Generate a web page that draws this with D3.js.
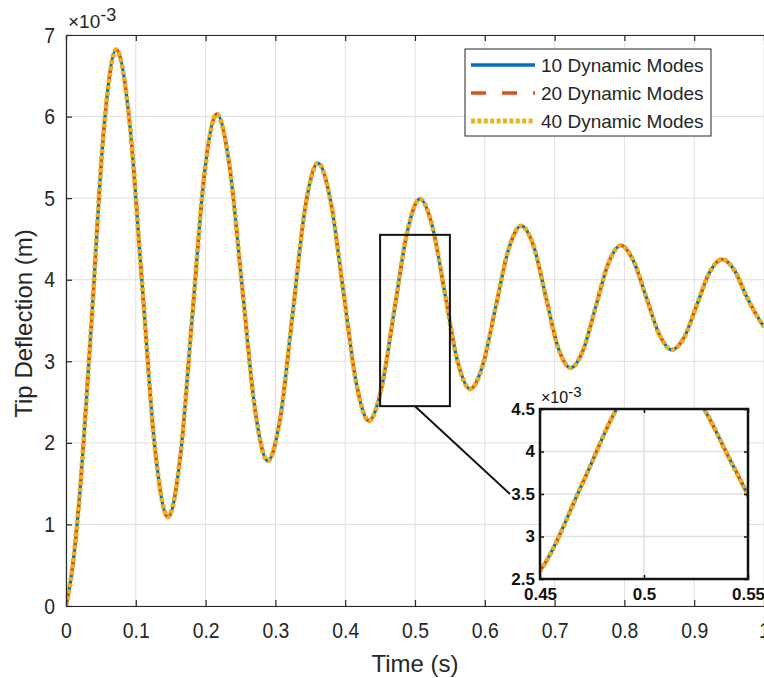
<!DOCTYPE html>
<html>
<head>
<meta charset="utf-8">
<script src="https://cdn.jsdelivr.net/npm/d3@7"></script>
<style>
  html, body { margin: 0; padding: 0; background: #fff; overflow: hidden; }
  svg { display: block; font-family: "Liberation Sans", Arial, Helvetica, sans-serif; }
</style>
</head>
<body>
<svg id="chart" width="764" height="678"></svg>
<script>
// ---- Data (deflection values in units of 1e-3 m) ----
const time = [0, 0.009, 0.018, 0.036, 0.054, 0.072, 0.0905, 0.109, 0.1275, 0.146, 0.1635, 0.181, 0.1985,
  0.216, 0.234, 0.2525, 0.271, 0.289, 0.307, 0.325, 0.343, 0.361, 0.379, 0.3975, 0.416, 0.434,
  0.452, 0.4705, 0.489, 0.507, 0.525, 0.543, 0.561, 0.579, 0.597, 0.6155, 0.634, 0.652, 0.670,
  0.6875, 0.705, 0.723, 0.741, 0.759, 0.777, 0.795, 0.813, 0.8315, 0.850, 0.868, 0.886, 0.904,
  0.922, 0.940, 0.958, 0.976, 0.994, 1.0];
const modes10 = [0, 0.45, 1.2, 3.41, 5.82, 6.82, 5.98, 3.955, 1.93, 1.09, 1.81, 3.56, 5.31,
  6.03, 5.41, 3.905, 2.40, 1.78, 2.31, 3.605, 4.90, 5.43, 4.97, 3.85, 2.73, 2.27,
  2.67, 3.63, 4.59, 4.99, 4.65, 3.825, 3.0, 2.66, 2.95, 3.66, 4.37, 4.66, 4.41,
  3.79, 3.17, 2.92, 3.14, 3.67, 4.20, 4.42, 4.23, 3.78, 3.33, 3.14, 3.30, 3.695,
  4.09, 4.25, 4.11, 3.775, 3.50, 3.42];
const modes20 = [0, 0.45, 1.2, 3.41, 5.82, 6.82, 5.98, 3.955, 1.93, 1.09, 1.81, 3.56, 5.31,
  6.03, 5.41, 3.905, 2.40, 1.78, 2.31, 3.605, 4.90, 5.43, 4.97, 3.85, 2.73, 2.27,
  2.67, 3.63, 4.59, 4.99, 4.65, 3.825, 3.0, 2.66, 2.95, 3.66, 4.37, 4.66, 4.41,
  3.79, 3.17, 2.92, 3.14, 3.67, 4.20, 4.42, 4.23, 3.78, 3.33, 3.14, 3.30, 3.695,
  4.09, 4.25, 4.11, 3.775, 3.50, 3.42];
const modes40 = [0, 0.45, 1.2, 3.41, 5.82, 6.82, 5.98, 3.955, 1.93, 1.09, 1.81, 3.56, 5.31,
  6.03, 5.41, 3.905, 2.40, 1.78, 2.31, 3.605, 4.90, 5.43, 4.97, 3.85, 2.73, 2.27,
  2.67, 3.63, 4.59, 4.99, 4.65, 3.825, 3.0, 2.66, 2.95, 3.66, 4.37, 4.66, 4.41,
  3.79, 3.17, 2.92, 3.14, 3.67, 4.20, 4.42, 4.23, 3.78, 3.33, 3.14, 3.30, 3.695,
  4.09, 4.25, 4.11, 3.775, 3.50, 3.42];
const seriesNames = ["10 Dynamic Modes", "20 Dynamic Modes", "40 Dynamic Modes"];
const xTicks = [0, 0.1, 0.2, 0.3, 0.4, 0.5, 0.6, 0.7, 0.8, 0.9, 1];
const yTicks = [0, 1, 2, 3, 4, 5, 6, 7];
const insetXTicks = [0.45, 0.5, 0.55];
const insetYTicks = [2.5, 3, 3.5, 4, 4.5];
const zoomBoxX = [0.45, 0.55];
const zoomBoxY = [2.45, 4.55];
const xLabel = "Time (s)";
const yLabel = "Tip Deflection (m)";

// ---- Styles ----
const series = [
  { name: seriesNames[0], values: modes10, color: "#0072BD", width: 3.3, dash: null },
  { name: seriesNames[1], values: modes20, color: "#D95319", width: 3.3, dash: "15,16" },
  { name: seriesNames[2], values: modes40, color: "#EDB120", width: 4.8, dash: "4,2.4" }
];
const axisColor = "#262626";
const gridColor = "#e0e0e0";
const SX = 0.88; // horizontal squeeze of tick labels

const svg = d3.select("#chart");
const W = 764, H = 678;
const plot = { left: 66, top: 35, right: 764, bottom: 606 };

const x = d3.scaleLinear().domain([0, 1]).range([plot.left, plot.right]);
const y = d3.scaleLinear().domain([0, 7]).range([plot.bottom, plot.top]);

svg.append("rect").attr("width", W).attr("height", H).attr("fill", "#fff");

// grid
const grid = svg.append("g");
grid.selectAll("line.vx").data(xTicks).join("line")
  .attr("x1", d => x(d)).attr("x2", d => x(d))
  .attr("y1", plot.top).attr("y2", plot.bottom)
  .attr("stroke", gridColor).attr("stroke-width", 1);
grid.selectAll("line.hy").data(yTicks).join("line")
  .attr("y1", d => y(d)).attr("y2", d => y(d))
  .attr("x1", plot.left).attr("x2", plot.right)
  .attr("stroke", gridColor).attr("stroke-width", 1);

// clip
svg.append("clipPath").attr("id", "mainClip").append("rect")
  .attr("x", plot.left).attr("y", plot.top - 6)
  .attr("width", plot.right - plot.left).attr("height", plot.bottom - plot.top + 12);

const line = d3.line()
  .x((d, i) => x(time[i]))
  .y(d => y(d))
  .curve(d3.curveMonotoneX);

const lines = svg.append("g").attr("clip-path", "url(#mainClip)");
series.forEach(s => {
  lines.append("path")
    .attr("d", line(s.values))
    .attr("fill", "none")
    .attr("stroke", s.color)
    .attr("stroke-width", s.width)
    .attr("stroke-dasharray", s.dash)
    .attr("stroke-linejoin", "round");
});

// axes
function styleAxis(g) {
  g.select(".domain").attr("stroke", axisColor).attr("stroke-width", 1.2);
  g.selectAll(".tick line").attr("stroke", axisColor).attr("stroke-width", 1.2);
  g.selectAll(".tick text").attr("fill", axisColor).attr("font-size", 22);
}
svg.append("g").attr("transform", `translate(0,${plot.bottom})`)
  .call(d3.axisBottom(x).tickValues(xTicks).tickSize(-6).tickSizeOuter(0).tickPadding(16.5)
    .tickFormat(d3.format("~g")))
  .call(styleAxis)
  .call(g => g.selectAll(".tick text").attr("transform", `scale(${SX},1)`));
svg.append("g").attr("transform", `translate(0,${plot.top})`)
  .call(d3.axisTop(x).tickValues(xTicks).tickSize(-6).tickSizeOuter(0).tickFormat(""))
  .call(styleAxis);
svg.append("g").attr("transform", `translate(${plot.left},0)`)
  .call(d3.axisLeft(y).tickValues(yTicks).tickSize(-6).tickSizeOuter(0).tickPadding(11)
    .tickFormat(d3.format("~g")))
  .call(styleAxis)
  .call(g => g.selectAll(".tick text").attr("x", -11 / SX).attr("transform", `scale(${SX},1)`));

// exponent
const exp = svg.append("text").attr("x", plot.left + 2).attr("y", 28)
  .attr("fill", axisColor).attr("font-size", 19);
exp.append("tspan").text("\u00d710");
exp.append("tspan").attr("dy", -7).attr("font-size", 18).text("-3");

// axis labels
svg.append("text").attr("x", (plot.left + plot.right) / 2).attr("y", 672)
  .attr("text-anchor", "middle").attr("fill", axisColor).attr("font-size", 24).text(xLabel);
svg.append("text").attr("transform", `translate(32,${(plot.top + plot.bottom) / 2 + 3}) rotate(-90)`)
  .attr("text-anchor", "middle").attr("fill", axisColor).attr("font-size", 24).text(yLabel);

// legend
const legend = { x: 465, y: 49, w: 246, h: 87, row: 28 };
const lg = svg.append("g");
lg.append("rect").attr("x", legend.x).attr("y", legend.y).attr("width", legend.w).attr("height", legend.h)
  .attr("fill", "#fff").attr("stroke", axisColor).attr("stroke-width", 1);
series.forEach((s, i) => {
  const cy = legend.y + 16 + i * legend.row;
  lg.append("line").attr("x1", legend.x + 6).attr("x2", legend.x + 70)
    .attr("y1", cy).attr("y2", cy)
    .attr("stroke", s.color).attr("stroke-width", s.width).attr("stroke-dasharray", s.dash);
  lg.append("text").attr("x", legend.x + 76).attr("y", cy).attr("dy", "0.36em")
    .attr("fill", axisColor).attr("font-size", 19).text(s.name);
});

// zoom box in main plot
svg.append("rect")
  .attr("x", x(zoomBoxX[0])).attr("y", y(zoomBoxY[1]))
  .attr("width", x(zoomBoxX[1]) - x(zoomBoxX[0]))
  .attr("height", y(zoomBoxY[0]) - y(zoomBoxY[1]))
  .attr("fill", "none").attr("stroke", "#111").attr("stroke-width", 2);

// ---- Inset ----
const inset = { left: 540, top: 409, right: 748, bottom: 579 };
const xi = d3.scaleLinear().domain([0.45, 0.55]).range([inset.left, inset.right]);
const yi = d3.scaleLinear().domain([2.5, 4.5]).range([inset.bottom, inset.top]);

// connector
svg.append("line")
  .attr("x1", x(0.5)).attr("y1", y(zoomBoxY[0]))
  .attr("x2", xi(0.45) - 30).attr("y2", yi(3.5))
  .attr("stroke", "#111").attr("stroke-width", 2);

const ig = svg.append("g");
ig.append("rect").attr("x", inset.left).attr("y", inset.top)
  .attr("width", inset.right - inset.left).attr("height", inset.bottom - inset.top)
  .attr("fill", "#fff");
ig.selectAll("line.gx").data(insetXTicks).join("line")
  .attr("x1", d => xi(d)).attr("x2", d => xi(d))
  .attr("y1", inset.top).attr("y2", inset.bottom)
  .attr("stroke", gridColor).attr("stroke-width", 1.5);
ig.selectAll("line.gy").data(insetYTicks).join("line")
  .attr("y1", d => yi(d)).attr("y2", d => yi(d))
  .attr("x1", inset.left).attr("x2", inset.right)
  .attr("stroke", gridColor).attr("stroke-width", 1.5);

svg.append("clipPath").attr("id", "insetClip").append("rect")
  .attr("x", inset.left).attr("y", inset.top)
  .attr("width", inset.right - inset.left).attr("height", inset.bottom - inset.top);
const iline = d3.line()
  .x((d, i) => xi(time[i]))
  .y(d => yi(d))
  .curve(d3.curveMonotoneX);
const ilines = ig.append("g").attr("clip-path", "url(#insetClip)");
series.forEach(s => {
  ilines.append("path")
    .attr("d", iline(s.values))
    .attr("fill", "none")
    .attr("stroke", s.color)
    .attr("stroke-width", s.width)
    .attr("stroke-dasharray", s.dash)
    .attr("stroke-linejoin", "round");
});

function styleInset(g) {
  g.select(".domain").remove();
  g.selectAll(".tick line").attr("stroke", "#111").attr("stroke-width", 1.5);
  g.selectAll(".tick text").attr("fill", "#111").attr("font-size", 17).attr("font-weight", "bold");
}
ig.append("g").attr("transform", `translate(0,${inset.bottom})`)
  .call(d3.axisBottom(xi).tickValues(insetXTicks).tickSize(-4).tickPadding(9).tickFormat(d3.format("~g")))
  .call(styleInset);
ig.append("g").attr("transform", `translate(0,${inset.top})`)
  .call(d3.axisTop(xi).tickValues(insetXTicks).tickSize(-4).tickFormat(""))
  .call(styleInset);
ig.append("g").attr("transform", `translate(${inset.left},0)`)
  .call(d3.axisLeft(yi).tickValues(insetYTicks).tickSize(-4).tickPadding(5).tickFormat(d3.format("~g")))
  .call(styleInset);
ig.append("g").attr("transform", `translate(${inset.right},0)`)
  .call(d3.axisRight(yi).tickValues(insetYTicks).tickSize(-4).tickFormat(""))
  .call(styleInset);
ig.append("rect").attr("x", inset.left).attr("y", inset.top)
  .attr("width", inset.right - inset.left).attr("height", inset.bottom - inset.top)
  .attr("fill", "none").attr("stroke", "#111").attr("stroke-width", 2.5);

const iexp = ig.append("text").attr("x", inset.left + 1).attr("y", 403)
  .attr("fill", "#111").attr("font-size", 16);
iexp.append("tspan").text("\u00d710");
iexp.append("tspan").attr("dy", -6).attr("font-size", 15).text("-3");
</script>
</body>
</html>
